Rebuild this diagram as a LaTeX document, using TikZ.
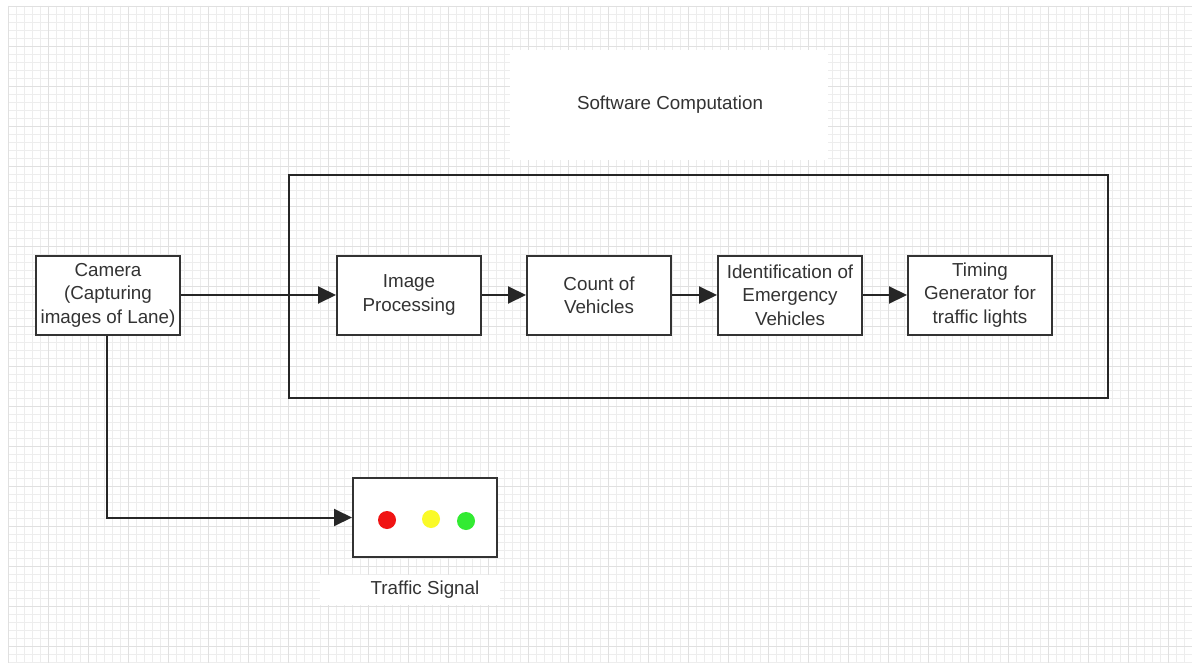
\documentclass[tikz,border=0pt]{standalone}
\usepackage{fontspec}
\setmainfont{Liberation Sans}
\usetikzlibrary{arrows.meta}
\definecolor{txt}{HTML}{333333}
\definecolor{gridminor}{HTML}{EDEDED}
\definecolor{gridmajor}{HTML}{E0E0E0}
\begin{document}
\begin{tikzpicture}[x=0.5pt,y=-0.5pt,
  blk/.style={draw=black!80,line width=1pt,fill=white,minimum width=72pt,minimum height=39.5pt,
    align=center,font=\fontsize{9.4}{11.7}\selectfont,text=txt,inner sep=0pt},
  conn/.style={line width=1pt,draw=black!85,-{Triangle[length=9pt,width=8.5pt]}},
  lbl/.style={font=\fontsize{9.4}{11.7}\selectfont,text=txt},
  lamp/.style={circle,inner sep=0pt,minimum size=9pt}]
\useasboundingbox (0,0) rectangle (1192,663);
\fill[white] (0,0) rectangle (1192,663);
% grid
\begin{scope}
\clip (8,6) rectangle (1192,663);
\foreach \x in {8,16,...,1192} \draw[gridminor,line width=0.3pt] (\x,6) -- (\x,663);
\foreach \y in {6,14,...,663} \draw[gridminor,line width=0.3pt] (8,\y) -- (1192,\y);
\foreach \x in {8,48,...,1192} \draw[gridmajor,line width=0.4pt] (\x,6) -- (\x,663);
\foreach \y in {6,46,...,663} \draw[gridmajor,line width=0.4pt] (8,\y) -- (1192,\y);
\end{scope}
% white label patches
\fill[white] (510,50) rectangle (828,160);
\fill[white] (320,575) rectangle (500,605);
% software computation frame
\node[draw=black!85,line width=1pt,minimum width=409.5pt,minimum height=111.5pt,inner sep=0pt] (frame) at (698.5,286.5) {};
\node[lbl] (swlabel) at (670,105) {Software Computation};
% blocks
\node[blk] (cam) at (108,295) {Camera\\(Capturing\\images of Lane)};
\node[blk] (ip) at (409,295) {Image\\Processing};
\node[blk] (cnt) at (599,295) {Count of\\Vehicles};
\node[blk] (idn) at (790,295) {Identification of\\Emergency\\Vehicles};
\node[blk] (tim) at (980,295) {Timing\\Generator for\\traffic lights};
\node[blk] (sig) at (425,517.5) {};
\node[lamp,fill={rgb,255:red,240;green,20;blue,20}] (red) at (387,520) {};
\node[lamp,fill={rgb,255:red,250;green,250;blue,40}] (yel) at (431,519) {};
\node[lamp,fill={rgb,255:red,50;green,235;blue,50}] (grn) at (466,521) {};
\node[lbl] (siglabel) at (425,590) {Traffic Signal};
% connectors
\draw[conn] (cam.east) -- (ip.west);
\draw[conn] (ip.east) -- (cnt.west);
\draw[conn] (cnt.east) -- (idn.west);
\draw[conn] (idn.east) -- (tim.west);
\draw[conn] (cam.south -| 107,0) |- (sig.west);
\end{tikzpicture}
\end{document}
